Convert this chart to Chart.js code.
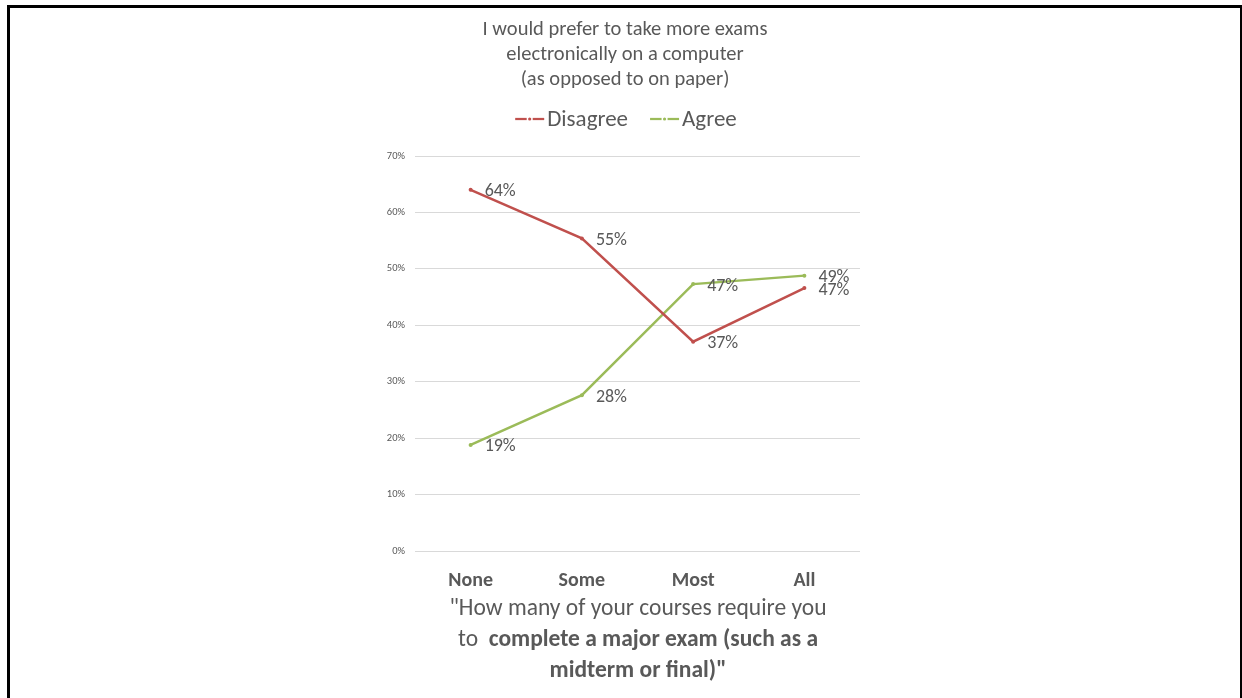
<!DOCTYPE html>
<html>
<head>
<meta charset="utf-8">
<script src="https://cdn.jsdelivr.net/npm/chart.js@4/dist/chart.umd.min.js"></script>
<style>
  body { margin: 0; background: #fff; }
  #wrap { position: relative; width: 1242px; height: 698px; overflow: hidden; }
  #frame { position: absolute; left: 7px; top: 5px; width: 1230px; height: 720px; border: 3px solid #000; }
  canvas { position: absolute; left: 0; top: 0; }
</style>
</head>
<body>
<div id="wrap">
  <div id="frame"></div>
  <canvas id="myChart" width="1242" height="698"></canvas>
</div>
<script>
var xValues = ["None", "Some", "Most", "All"];
var disagree = [64, 55.4, 37.1, 46.6];
var agree = [18.8, 27.6, 47.3, 48.8];
var yTicks = [0, 10, 20, 30, 40, 50, 60, 70];
var titleLines = ["I would prefer to take more exams", "electronically on a computer", "(as opposed to on paper)"];
// x title, [text, bold] pieces per line
var xTitleLines = [
  [['"How many of your courses require you', false]],
  [['to  ', false], ['complete a major exam (such as a', true]],
  [['midterm or final)"', true]]
];

var FONT = "Calibri, Carlito, Lato, sans-serif";
var GREY = "#595959";
var RED = "#c0504d";
var GREEN = "#9bbb59";

var extras = {
  id: "extras",
  afterDraw: function(chart) {
    var ctx = chart.ctx;
    ctx.save();
    ctx.fillStyle = GREY;
    ctx.textBaseline = "middle";

    // title
    ctx.textAlign = "center";
    ctx.font = "20.5px " + FONT;
    titleLines.forEach(function(t, i) {
      ctx.fillText(t, 625, 30 + i * 25);
    });

    // legend
    var items = [["Disagree", RED], ["Agree", GREEN]];
    ctx.font = "23px " + FONT;
    ctx.textAlign = "left";
    var symW = 29, gap = 3, between = 22;
    var total = 0;
    items.forEach(function(it) { total += symW + gap + ctx.measureText(it[0]).width; });
    total += between;
    var lx = 626 - total / 2;
    items.forEach(function(it) {
      ctx.strokeStyle = it[1];
      ctx.lineWidth = 2.25;
      ctx.beginPath();
      ctx.moveTo(lx, 119); ctx.lineTo(lx + symW, 119);
      ctx.stroke();
      ctx.fillStyle = "#fff";
      ctx.fillRect(lx + symW / 2 - 3, 116, 6, 6);
      ctx.fillStyle = it[1];
      ctx.beginPath();
      ctx.arc(lx + symW / 2, 119, 1.6, 0, Math.PI * 2);
      ctx.fill();
      ctx.fillStyle = GREY;
      ctx.fillText(it[0], lx + symW + gap, 120);
      lx += symW + gap + ctx.measureText(it[0]).width + between;
    });

    // data labels
    ctx.font = "18px " + FONT;
    ctx.fillStyle = GREY;
    chart.data.datasets.forEach(function(ds, di) {
      var meta = chart.getDatasetMeta(di);
      meta.data.forEach(function(pt, i) {
        ctx.fillText(Math.round(ds.data[i]) + "%", pt.x + 14, pt.y + 2);
      });
    });

    // x axis title
    xTitleLines.forEach(function(line, li) {
      var w = 0;
      line.forEach(function(p) {
        ctx.font = (p[1] ? "bold " : "") + "23.5px " + FONT;
        w += ctx.measureText(p[0]).width;
      });
      var x = 638 - w / 2;
      line.forEach(function(p) {
        ctx.font = (p[1] ? "bold " : "") + "23.5px " + FONT;
        ctx.fillText(p[0], x, 609 + li * 31);
        x += ctx.measureText(p[0]).width;
      });
    });
    ctx.restore();
  }
};

new Chart("myChart", {
  type: "line",
  data: {
    labels: xValues,
    datasets: [{
      label: "Disagree",
      data: disagree,
      borderColor: RED,
      backgroundColor: RED,
      borderWidth: 2.5,
      pointRadius: 2,
      pointBorderWidth: 0
    }, {
      label: "Agree",
      data: agree,
      borderColor: GREEN,
      backgroundColor: GREEN,
      borderWidth: 2.5,
      pointRadius: 2,
      pointBorderWidth: 0
    }]
  },
  plugins: [extras],
  options: {
    responsive: false,
    animation: false,
    layout: { padding: { left: 355, right: 382, top: 156, bottom: 107 } },
    plugins: {
      legend: { display: false },
      title: { display: false },
      tooltip: { enabled: false }
    },
    scales: {
      x: {
        offset: true,
        afterFit: function(s) { s.height = 40; },
        grid: { display: false, drawTicks: false },
        border: { display: false },
        ticks: {
          color: GREY,
          padding: 18,
          font: { family: FONT, size: 20, weight: "bold" }
        }
      },
      y: {
        min: 0,
        max: 70,
        afterFit: function(s) { s.width = 60; },
        afterBuildTicks: function(s) { s.ticks = yTicks.map(function(v) { return { value: v }; }); },
        grid: { color: "#d9d9d9", lineWidth: 1, drawTicks: false },
        border: { display: false },
        ticks: {
          color: GREY,
          padding: 10,
          font: { family: FONT, size: 10.5 },
          callback: function(v) { return v + "%"; }
        }
      }
    }
  }
});
</script>
</body>
</html>
